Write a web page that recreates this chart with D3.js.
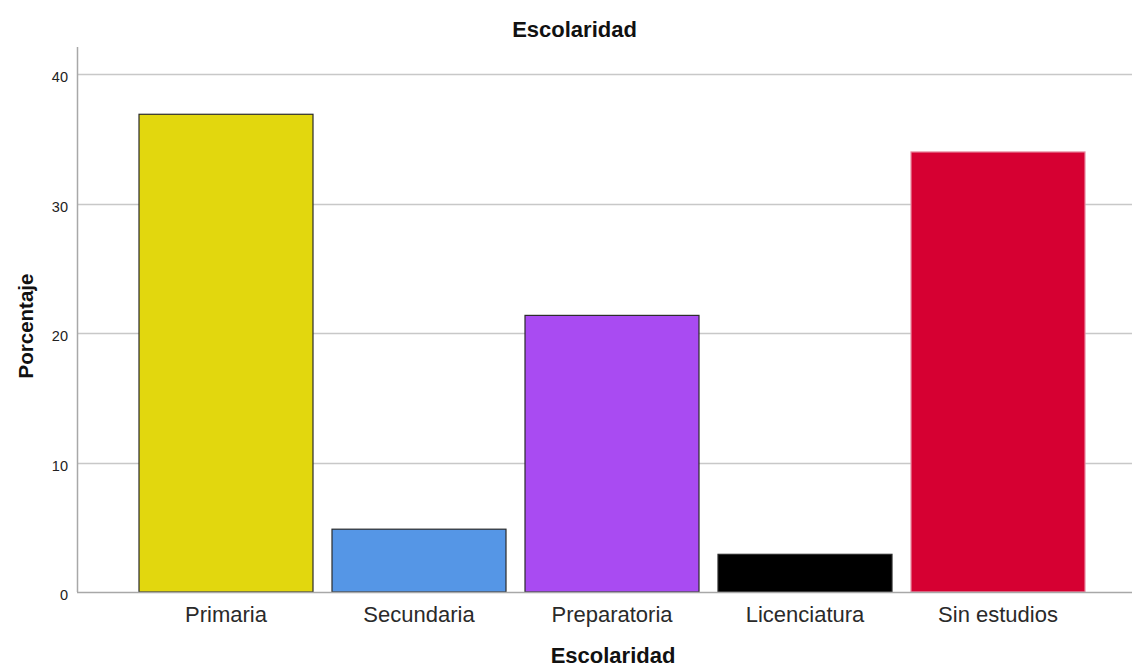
<!DOCTYPE html>
<html lang="es">
<head>
<meta charset="UTF-8">
<title>Escolaridad</title>
<style>
  html, body { margin: 0; padding: 0; background: #fff; overflow: hidden; }
  svg { display: block; font-family: "Liberation Sans", Arial, sans-serif; }
</style>
</head>
<body>
<svg id="chart" width="1132" height="668"></svg>
<script src="https://cdn.jsdelivr.net/npm/d3@7"></script>
<script>
// datos: porcentaje por nivel de escolaridad (n = 103)
const categorias = ["Primaria", "Secundaria", "Preparatoria", "Licenciatura", "Sin estudios"];
const porcentajes = [36.89, 4.85, 21.36, 2.91, 33.98];
const colores = ["#e2d70e", "#5596e6", "#a94bf2", "#000000", "#d60032"];
const bordes = ["#2b2b2b", "#2b2b2b", "#2b2b2b", "#2b2b2b", "#e88aa0"];
const ticksY = [0, 10, 20, 30, 40];

const svg = d3.select("#chart");
const m = { left: 77, right: 1132, top: 47, bottom: 592 };

const x = d3.scaleBand()
  .domain(categorias)
  .range([129.5, 1094.5])
  .paddingInner(19 / 193)
  .paddingOuter(9.5 / 193);

const y = d3.scaleLinear()
  .domain([0, 40])
  .range([m.bottom, 74]);

// rejilla
svg.append("g")
  .selectAll("line")
  .data(ticksY.filter(d => d > 0))
  .join("line")
  .attr("x1", m.left).attr("x2", m.right)
  .attr("y1", d => Math.round(y(d)) + 0.5)
  .attr("y2", d => Math.round(y(d)) + 0.5)
  .attr("stroke", "#c8c8c8")
  .attr("stroke-width", 1.5);

// barras
svg.append("g")
  .selectAll("rect")
  .data(categorias)
  .join("rect")
  .attr("x", d => x(d))
  .attr("y", (d, i) => y(porcentajes[i]))
  .attr("width", x.bandwidth())
  .attr("height", (d, i) => y(0) - y(porcentajes[i]))
  .attr("fill", (d, i) => colores[i])
  .attr("stroke", (d, i) => bordes[i])
  .attr("stroke-width", 1.2);

// eje Y
const ejeY = svg.append("g")
  .attr("transform", `translate(${m.left},0)`)
  .call(d3.axisLeft(y).tickValues(ticksY).tickSize(0).tickPadding(9));
ejeY.select(".domain").remove();
ejeY.selectAll(".tick text")
  .attr("font-size", 14.5)
  .attr("dy", "0.55em")
  .attr("fill", "#222")
  .attr("font-family", "Liberation Sans, Arial, sans-serif");

svg.append("line")
  .attr("x1", m.left + 0.5).attr("x2", m.left + 0.5)
  .attr("y1", m.top).attr("y2", m.bottom)
  .attr("stroke", "#a8a8a8").attr("stroke-width", 1.5);

// eje X
const ejeX = svg.append("g")
  .attr("transform", `translate(0,${m.bottom})`)
  .call(d3.axisBottom(x).tickSize(0).tickPadding(14));
ejeX.select(".domain").remove();
ejeX.selectAll(".tick text")
  .attr("font-size", 22)
  .attr("fill", "#2a2a2a")
  .attr("font-family", "Liberation Sans, Arial, sans-serif");

svg.append("line")
  .attr("x1", m.left).attr("x2", m.right)
  .attr("y1", m.bottom + 0.5).attr("y2", m.bottom + 0.5)
  .attr("stroke", "#a8a8a8").attr("stroke-width", 1.5);

// títulos
svg.append("text")
  .attr("x", 574.5).attr("y", 37)
  .attr("text-anchor", "middle")
  .attr("font-size", 22).attr("font-weight", "bold").attr("fill", "#111")
  .text("Escolaridad");

svg.append("text")
  .attr("x", 613).attr("y", 663)
  .attr("text-anchor", "middle")
  .attr("font-size", 22).attr("font-weight", "bold").attr("fill", "#111")
  .text("Escolaridad");

svg.append("text")
  .attr("transform", "translate(33,326) rotate(-90)")
  .attr("text-anchor", "middle")
  .attr("font-size", 20.5).attr("font-weight", "bold").attr("fill", "#111")
  .text("Porcentaje");
</script>
</body>
</html>
